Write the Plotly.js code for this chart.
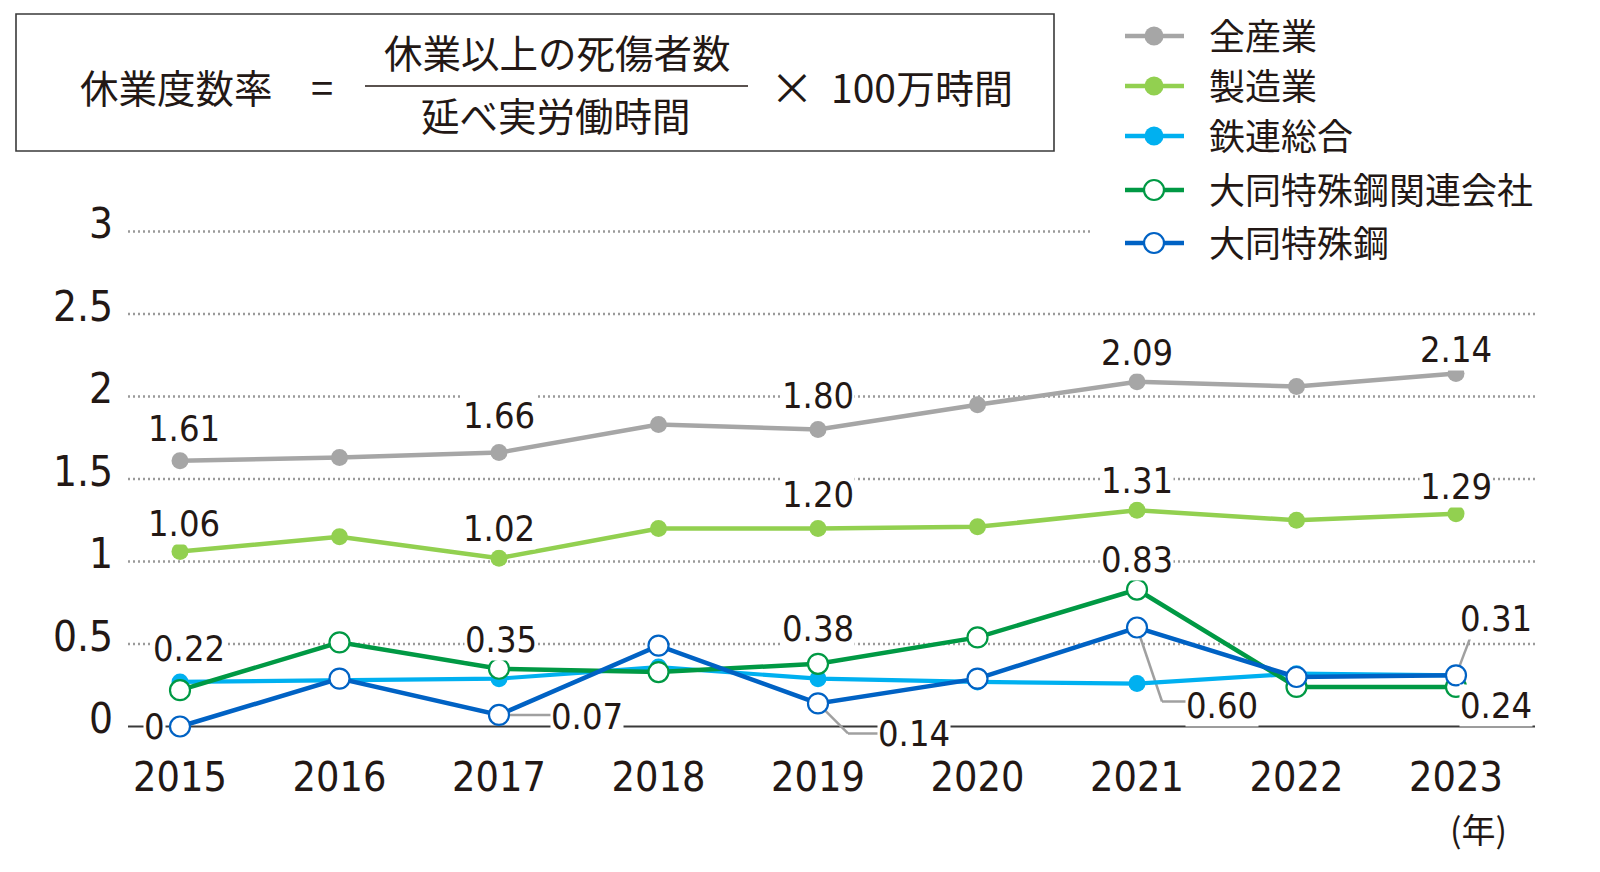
<!DOCTYPE html>
<html><head><meta charset="utf-8">
<script src="https://cdn.plot.ly/plotly-3.0.1.min.js"></script>
<style>html,body{margin:0;padding:0;background:#fff}#chart{width:1600px;height:872px}</style>
</head><body><div id="chart"></div><script>
// ---- data ----
const years = [2015, 2016, 2017, 2018, 2019, 2020, 2021, 2022, 2023];
const yearLabels = ['2015', '2016', '2017', '2018', '2019', '2020', '2021', '2022', '2023'];
const seriesNames = ['全産業', '製造業', '鉄連総合', '大同特殊鋼関連会社', '大同特殊鋼'];
const allIndustry   = [1.61, 1.63, 1.66, 1.83, 1.80, 1.95, 2.09, 2.06, 2.14];
const manufacturing = [1.06, 1.15, 1.02, 1.20, 1.20, 1.21, 1.31, 1.25, 1.29];
const steelFed      = [0.27, 0.28, 0.29, 0.36, 0.29, 0.27, 0.26, 0.32, 0.31];
const daidoGroup    = [0.22, 0.51, 0.35, 0.33, 0.38, 0.54, 0.83, 0.24, 0.24];
const daido         = [0.00, 0.29, 0.07, 0.49, 0.14, 0.29, 0.60, 0.30, 0.31];
const yTickVals = [0, 0.5, 1, 1.5, 2, 2.5, 3];
const yTickText = ['0', '0.5', '1', '1.5', '2', '2.5', '3'];
const unitLabel = '(年)';
const formulaLeft = '休業度数率';
const formulaNum = '休業以上の死傷者数';
const formulaDen = '延べ実労働時間';
const formulaRight = '100万時間';

// ---- styles ----
const NUM_FONT = "'Liberation Sans Narrow','DejaVu Sans Condensed','Noto Sans CJK JP',sans-serif";
const JP_FONT = "'Noto Sans CJK JP','Noto Sans',sans-serif";
const TXT = '#231815';
const series = [
  {name: seriesNames[0], y: allIndustry,   color: '#a6a6a6', open: false, lw: 4.5, ms: 17},
  {name: seriesNames[1], y: manufacturing, color: '#92d050', open: false, lw: 4.5, ms: 17},
  {name: seriesNames[2], y: steelFed,      color: '#00b0f0', open: false, lw: 4.2, ms: 17},
  {name: seriesNames[3], y: daidoGroup,    color: '#009944', open: true,  lw: 4.5, ms: 20},
  {name: seriesNames[4], y: daido,         color: '#0062c4', open: true,  lw: 4.5, ms: 20}
];

// pixel geometry of plot area
const L = 128, R = 1535, T = 200, B = 740;
const px = x => (x - L) / (R - L);
const py = y => (B - y) / (B - T);

const traces = series.map(s => ({
  type: 'scatter', mode: 'lines+markers', name: s.name,
  x: years, y: s.y,
  line: {color: s.color, width: s.lw},
  marker: s.open ? {symbol: 'circle', size: s.ms, color: '#ffffff', line: {color: s.color, width: 2.2}}
                 : {symbol: 'circle', size: s.ms, color: s.color},
  hoverinfo: 'x+y'
}));

const fmt = v => v === 0 ? '0' : v.toFixed(2);

// label placement (positions only): series index, point index, dx, dy(px, up positive)
const labelPlace = [
  [0,0,4,32],[0,2,0,37],[0,4,0,34],[0,6,0,29],[0,8,0,24],
  [1,0,4,28],[1,2,0,30],[1,4,0,34],[1,6,0,30],[1,8,0,27],
  [3,0,9,42],[3,2,2,29],[3,4,0,35],[3,6,0,30],[3,8,40,-19],
  [4,0,-26,0],[4,2,88,-2],[4,4,96,-30],[4,6,85,-78],[4,8,40,57]
];
const annotations = labelPlace.map(([si, i, dx, dy]) => ({
  x: years[i], y: series[si].y[i], xref: 'x', yref: 'y',
  text: fmt(series[si].y[i]), showarrow: false,
  xshift: dx, yshift: dy, bgcolor: '#ffffff', borderpad: 0,
  font: {family: NUM_FONT, size: 36, color: TXT}
}));

// leader lines (px offsets from marker, y down)
const leaders = [
  [4, 2, [[0,0],[56,0]]],
  [4, 4, [[0,0],[30,30],[63,30]]],
  [4, 6, [[0,0],[25,74],[53,74]]],
  [4, 8, [[0,0],[14,-37]]]
];
const shapes = [];
// gridlines
yTickVals.filter(v => v > 0).forEach(v => {
  shapes.push({type: 'line', xref: 'paper', yref: 'y', x0: 0, x1: v === 3 ? px(1092) : 1, y0: v, y1: v,
    line: {color: '#9a9a9a', width: 2.5, dash: '2px,3px'}, layer: 'below'});
});
// zero axis line
shapes.push({type: 'line', xref: 'paper', yref: 'y', x0: 0, x1: 1, y0: 0, y1: 0,
  line: {color: '#3a3a3a', width: 2}, layer: 'below'});
leaders.forEach(([si, i, pts]) => {
  for (let k = 0; k < pts.length - 1; k++) {
    shapes.push({type: 'line', xref: 'x', yref: 'y', xsizemode: 'pixel', ysizemode: 'pixel',
      xanchor: years[i], yanchor: series[si].y[i],
      x0: pts[k][0], x1: pts[k+1][0], y0: -pts[k][1], y1: -pts[k+1][1],
      line: {color: '#a0a0a0', width: 2.5}, layer: 'below'});
  }
});

// formula box
shapes.push({type: 'rect', xref: 'paper', yref: 'paper', x0: px(16), x1: px(1054), y0: py(151), y1: py(14),
  line: {color: '#3a3a3a', width: 1.6}});
shapes.push({type: 'line', xref: 'paper', yref: 'paper', x0: px(365), x1: px(748), y0: py(86), y1: py(86),
  line: {color: TXT, width: 1.6}});
const fAnn = (text, x, y, anchor, size) => ({xref: 'paper', yref: 'paper', x: px(x), y: py(y),
  xanchor: anchor, yanchor: 'middle', showarrow: false, text: text,
  font: {family: JP_FONT, size: size, color: TXT}});
annotations.push(fAnn(formulaLeft, 176, 86, 'center', 38.5));
annotations.push(fAnn('=', 322, 86, 'center', 40));
annotations.push(fAnn(formulaNum, 557, 51, 'center', 38.5));
annotations.push(fAnn(formulaDen, 556, 114, 'center', 38.5));
annotations.push(fAnn('×', 792, 86, 'center', 44));
annotations.push(fAnn(formulaRight, 922, 86, 'center', 39));
annotations.push(fAnn(unitLabel, 1478, 828, 'center', 34));

// custom legend
const legY = [34, 84, 134, 188, 241];
series.forEach((s, k) => {
  shapes.push({type: 'line', xref: 'paper', yref: 'paper', x0: px(1125), x1: px(1184), y0: py(legY[k] + 2), y1: py(legY[k] + 2),
    line: {color: s.color, width: 4.5}});
  const r = s.open ? 10 : 9.5;
  shapes.push({type: 'circle', xref: 'paper', yref: 'paper', xsizemode: 'pixel', ysizemode: 'pixel',
    xanchor: px(1154), yanchor: py(legY[k] + 2), x0: -r, x1: r, y0: -r, y1: r,
    fillcolor: s.open ? '#ffffff' : s.color, line: {color: s.color, width: s.open ? 2.2 : 0}});
  annotations.push({xref: 'paper', yref: 'paper', x: px(1207), y: py(legY[k]), xanchor: 'left', yanchor: 'middle',
    showarrow: false, text: s.name, font: {family: JP_FONT, size: 36, color: TXT}});
});

const layout = {
  width: 1600, height: 872,
  margin: {l: L, r: 1600 - R, t: T, b: 872 - B, pad: 0},
  paper_bgcolor: '#ffffff', plot_bgcolor: '#ffffff',
  showlegend: false,
  xaxis: {range: [2015 - 52 / 159.5, 2015 + (R - 180) / 159.5], tickvals: years, ticktext: yearLabels,
    showgrid: false, zeroline: false, showline: false, ticks: '',
    tickfont: {family: NUM_FONT, size: 41, color: TXT}, ticklabelstandoff: 9, fixedrange: true},
  yaxis: {range: [(726.5 - B) / 165, (726.5 - T) / 165], tickvals: yTickVals, ticktext: yTickText,
    showgrid: false, zeroline: false, showline: false, ticks: '',
    tickfont: {family: NUM_FONT, size: 42, color: TXT}, ticklabelstandoff: 14, ticklabelshift: -8, fixedrange: true},
  shapes: shapes, annotations: annotations
};
Plotly.newPlot('chart', traces, layout, {displayModeBar: false, staticPlot: true});
</script></body></html>
